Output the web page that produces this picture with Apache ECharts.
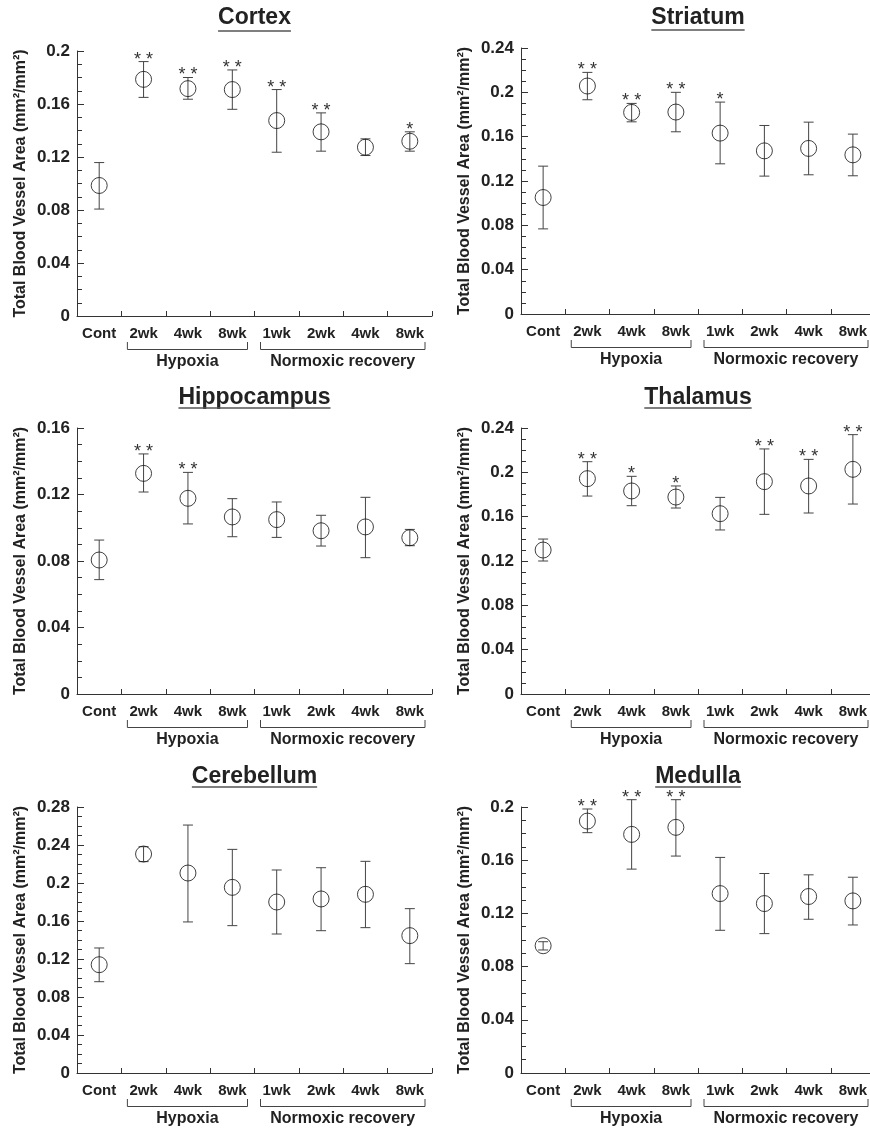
<!DOCTYPE html>
<html>
<head>
<meta charset="utf-8">
<script src="https://cdn.jsdelivr.net/npm/echarts@6/dist/echarts.min.js"></script>
<style>
html, body { margin: 0; padding: 0; background: #fff; }
#container { width: 870px; height: 1129px; }
</style>
</head>
<body>
<div id="container"></div>
<script>
// categories
const groups = ['Cont', '2wk', '4wk', '8wk', '1wk', '2wk', '4wk', '8wk'];
const regions = ['Cortex', 'Striatum', 'Hippocampus', 'Thalamus', 'Cerebellum', 'Medulla'];
const yMax = [0.2, 0.24, 0.16, 0.24, 0.28, 0.2];

// mean, lower / upper end of error bar, significance marks
const cortexMean = [0.0985, 0.1786, 0.1716, 0.1709, 0.1475, 0.139, 0.1274, 0.1319];
const cortexLow  = [0.0807, 0.165, 0.1636, 0.156, 0.1236, 0.1244, 0.1211, 0.1244];
const cortexHigh = [0.1158, 0.192, 0.180, 0.1857, 0.1709, 0.1533, 0.1337, 0.139];
const cortexSig  = ['', '**', '**', '**', '**', '**', '', '*'];

const striatumMean = [0.1051, 0.2057, 0.1819, 0.1822, 0.1632, 0.1472, 0.1494, 0.1436];
const striatumLow  = [0.0768, 0.1933, 0.1734, 0.1644, 0.1355, 0.1244, 0.1256, 0.1247];
const striatumHigh = [0.1334, 0.218, 0.19, 0.2, 0.1912, 0.1701, 0.1731, 0.1623];
const striatumSig  = ['', '**', '**', '**', '*', '', '', ''];

const hippoMean = [0.0806, 0.1327, 0.1177, 0.1065, 0.1049, 0.0982, 0.1005, 0.094];
const hippoLow  = [0.0688, 0.1215, 0.1023, 0.0946, 0.0942, 0.089, 0.082, 0.0892];
const hippoHigh = [0.0926, 0.1444, 0.1333, 0.1175, 0.1155, 0.1075, 0.1183, 0.099];
const hippoSig  = ['', '**', '**', '', '', '', '', ''];

const thalamusMean = [0.1299, 0.1943, 0.1832, 0.1777, 0.1627, 0.1916, 0.1877, 0.2027];
const thalamusLow  = [0.12, 0.1786, 0.1699, 0.1678, 0.148, 0.1621, 0.1633, 0.1714];
const thalamusHigh = [0.1398, 0.2096, 0.1964, 0.1877, 0.1774, 0.2211, 0.2117, 0.234];
const thalamusSig  = ['', '**', '*', '*', '', '**', '**', '**'];

const cerebellumMean = [0.114, 0.2305, 0.2105, 0.1954, 0.18, 0.1832, 0.1881, 0.1446];
const cerebellumLow  = [0.0961, 0.2225, 0.159, 0.1551, 0.1463, 0.1498, 0.153, 0.1151];
const cerebellumHigh = [0.1316, 0.2382, 0.261, 0.2354, 0.2137, 0.2161, 0.2228, 0.173];
const cerebellumSig  = ['', '', '', '', '', '', '', ''];

const medullaMean = [0.0957, 0.1894, 0.1794, 0.1847, 0.1349, 0.1274, 0.1327, 0.1294];
const medullaLow  = [0.0925, 0.1807, 0.1533, 0.1631, 0.1073, 0.1048, 0.1156, 0.1113];
const medullaHigh = [0.0987, 0.1985, 0.2055, 0.2055, 0.1621, 0.15, 0.149, 0.1472];
const medullaSig  = ['', '**', '**', '**', '', '', '', ''];

const means = [cortexMean, striatumMean, hippoMean, thalamusMean, cerebellumMean, medullaMean];
const lows  = [cortexLow, striatumLow, hippoLow, thalamusLow, cerebellumLow, medullaLow];
const highs = [cortexHigh, striatumHigh, hippoHigh, thalamusHigh, cerebellumHigh, medullaHigh];
const sigs  = [cortexSig, striatumSig, hippoSig, thalamusSig, cerebellumSig, medullaSig];

const FONT = '"Liberation Sans", Arial, Helvetica, sans-serif';
const AXIS = '#333';
const BAR = '#444';

// pixel boxes of the six plots, and title rows
const layout = [
  { left: 77, top: 51, width: 355, height: 265 },
  { left: 521, top: 48, width: 354, height: 266 },
  { left: 77, top: 428, width: 355, height: 266 },
  { left: 521, top: 428, width: 354, height: 266 },
  { left: 77, top: 807, width: 355, height: 266 },
  { left: 521, top: 807, width: 354, height: 266 }
];
const titleY = [18, 18, 398, 398, 777, 777];
const underY = [31, 30, 408, 408, 787, 787];

function errorBar(sig) {
  return function (params, api) {
    const x = api.value(0);
    const lo = api.coord([x, api.value(1)]);
    const hi = api.coord([x, api.value(2)]);
    const h = 5;
    const st = { stroke: BAR, lineWidth: 1 };
    const kids = [
      { type: 'line', shape: { x1: lo[0], y1: lo[1], x2: hi[0], y2: hi[1] }, style: st },
      { type: 'line', shape: { x1: hi[0] - h, y1: hi[1], x2: hi[0] + h, y2: hi[1] }, style: st },
      { type: 'line', shape: { x1: lo[0] - h, y1: lo[1], x2: lo[0] + h, y2: lo[1] }, style: st }
    ];
    const s = sig[params.dataIndex];
    if (s) {
      kids.push({
        type: 'text',
        style: {
          text: s.split('').join(' '), x: hi[0], y: hi[1] - 2,
          textAlign: 'center', textVerticalAlign: 'middle',
          font: '18px ' + FONT, fill: '#333'
        }
      });
    }
    return { type: 'group', children: kids };
  };
}

const grids = [], xAxes = [], yAxes = [], series = [];
layout.forEach((b, k) => {
  grids.push({ left: b.left, top: b.top, width: b.width, height: b.height, containLabel: false, outerBoundsMode: 'none' });
  xAxes.push({
    type: 'category', gridIndex: k, data: groups, boundaryGap: true,
    axisLine: { lineStyle: { color: AXIS, width: 1 } },
    axisTick: { show: true, inside: true, length: 5, lineStyle: { color: AXIS } },
    axisLabel: { interval: 0, margin: 10, fontSize: 15, fontWeight: 'bold', fontFamily: FONT, color: '#222' },
    splitLine: { show: false }
  });
  yAxes.push({
    type: 'value', gridIndex: k, min: 0, max: yMax[k], interval: 0.04,
    name: 'Total Blood Vessel Area (mm²/mm²)', nameLocation: 'middle', nameGap: 48,
    nameTextStyle: { fontSize: 16, fontWeight: 'bold', fontFamily: FONT, color: '#222' },
    axisLine: { show: true, lineStyle: { color: AXIS, width: 1 } },
    axisTick: { show: true, inside: true, length: 7, lineStyle: { color: AXIS } },
    minorTick: { show: true, splitNumber: 4, length: 5, lineStyle: { color: AXIS } },
    axisLabel: {
      margin: 7, fontSize: 17, fontWeight: 'bold', fontFamily: FONT, color: '#222',
      formatter: v => String(Math.round(v * 100) / 100)
    },
    splitLine: { show: false }
  });
  series.push({
    type: 'custom', xAxisIndex: k, yAxisIndex: k,
    renderItem: errorBar(sigs[k]),
    encode: { x: 0, y: [1, 2] },
    data: groups.map((_, i) => [i, lows[k][i], highs[k][i]]),
    z: 2, silent: true
  });
  series.push({
    type: 'scatter', xAxisIndex: k, yAxisIndex: k,
    symbol: 'circle', symbolSize: 16,
    itemStyle: { color: 'rgba(0,0,0,0)', borderColor: '#111', borderWidth: 1 },
    data: means[k].map((v, i) => [i, v]),
    z: 3, silent: true
  });
});

const chart = echarts.init(document.getElementById('container'));
chart.setOption({
  animation: false,
  backgroundColor: '#fff',
  grid: grids, xAxis: xAxes, yAxis: yAxes, series: series
});

// titles, underlines and group brackets
const ctx = document.createElement('canvas').getContext('2d');
const titleFont = 'bold 23px ' + FONT;
ctx.font = titleFont;
const graphics = [];
layout.forEach((b, k) => {
  const cx = b.left + b.width / 2;
  const tw = ctx.measureText(regions[k]).width;
  graphics.push({
    type: 'text', x: cx, y: titleY[k],
    style: { text: regions[k], font: titleFont, fill: '#222', textAlign: 'center', textVerticalAlign: 'middle' }
  });
  graphics.push({
    type: 'line', shape: { x1: cx - tw / 2, y1: underY[k], x2: cx + tw / 2, y2: underY[k] },
    style: { stroke: '#555', lineWidth: 1.5 }
  });
  const bw = b.width / groups.length;
  const px = i => chart.convertToPixel({ xAxisIndex: k }, i);
  const y0 = chart.convertToPixel({ yAxisIndex: k }, 0);
  const spans = [[1, 3, 'Hypoxia'], [4, 7, 'Normoxic recovery']];
  spans.forEach(([a, z, label]) => {
    const x1 = px(a) - bw / 2 + 6;
    const x2 = px(z) + bw / 2 - 7;
    graphics.push({
      type: 'polyline',
      shape: { points: [[x1, y0 + 26], [x1, y0 + 33.5], [x2, y0 + 33.5], [x2, y0 + 26]] },
      style: { stroke: BAR, lineWidth: 1, fill: null }
    });
    graphics.push({
      type: 'text', x: (x1 + x2) / 2, y: y0 + 46,
      style: { text: label, font: 'bold 16px ' + FONT, fill: '#222', textAlign: 'center', textVerticalAlign: 'middle' }
    });
  });
});
chart.setOption({ graphic: graphics });
</script>
</body>
</html>
